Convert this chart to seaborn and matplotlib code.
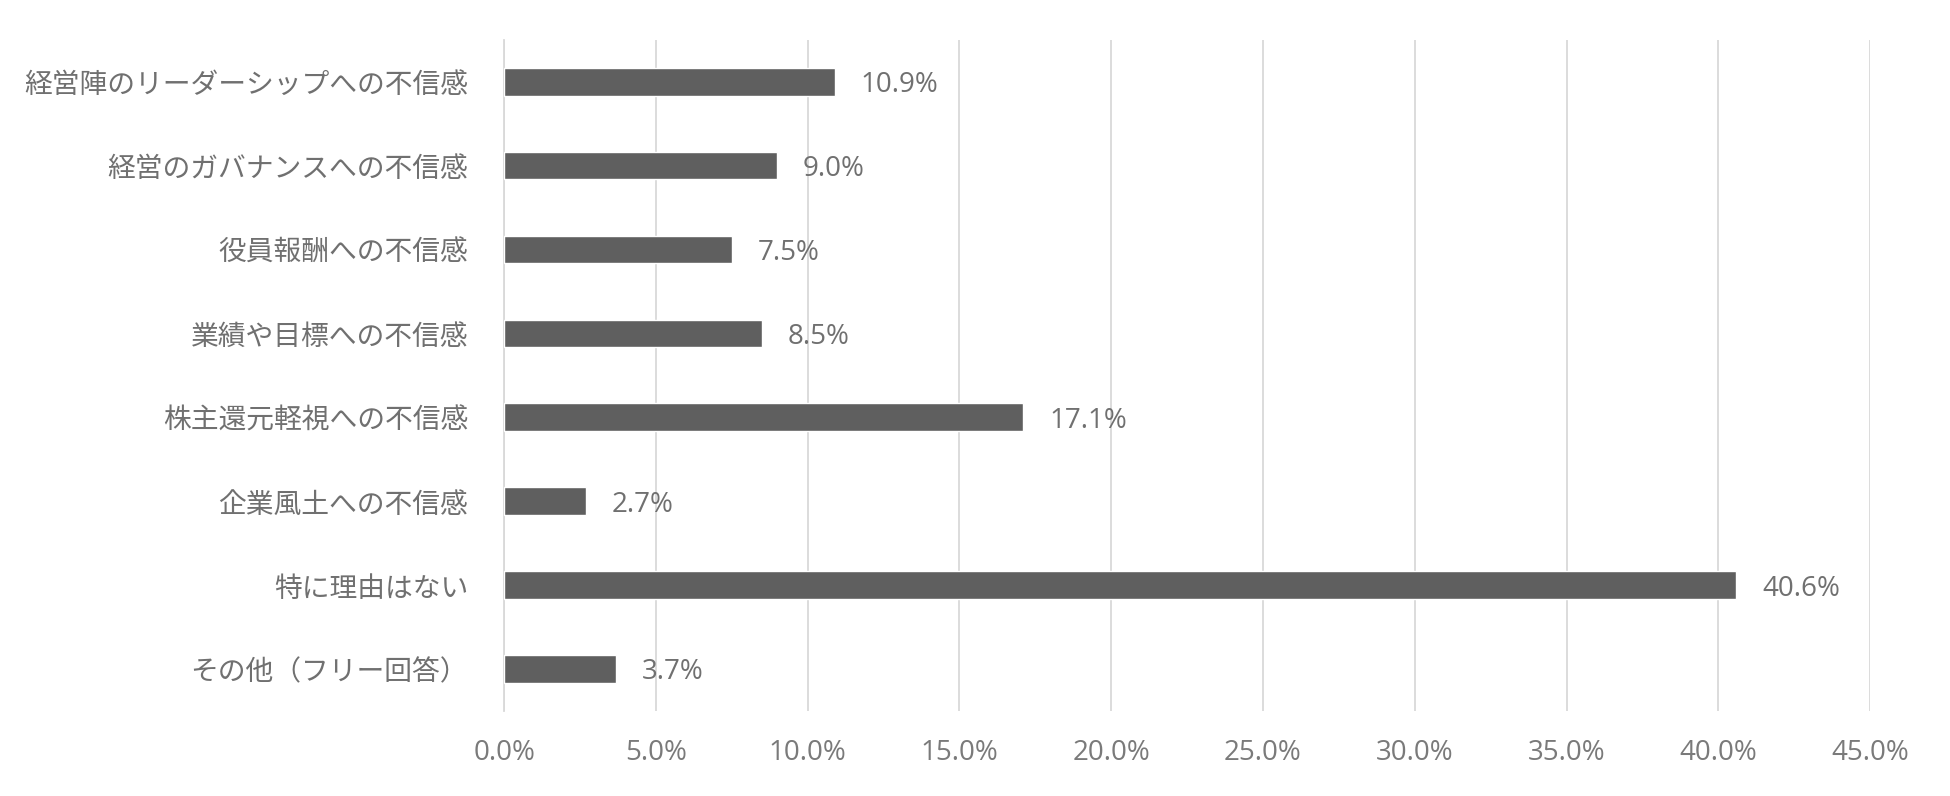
import pandas as pd
import seaborn as sns
import matplotlib.pyplot as plt
from matplotlib.ticker import FuncFormatter, MultipleLocator

# 回答項目と割合（%）
categories = [
    "経営陣のリーダーシップへの不信感",
    "経営のガバナンスへの不信感",
    "役員報酬への不信感",
    "業績や目標への不信感",
    "株主還元軽視への不信感",
    "企業風土への不信感",
    "特に理由はない",
    "その他（フリー回答）",
]
values = [10.9, 9.0, 7.5, 8.5, 17.1, 2.7, 40.6, 3.7]

df = pd.DataFrame({"項目": categories, "割合": values})

sns.set_style("white")
plt.rcParams["font.family"] = ["Noto Sans CJK JP", "DejaVu Sans"]

fig = plt.figure(figsize=(19.5, 7.96), dpi=100)
ax = fig.add_axes([0.2585, 0.107, 0.7005, 0.843])

sns.barplot(data=df, x="割合", y="項目", color="#5f5f5f", width=0.33,
            saturation=1, ax=ax, zorder=3)

# データラベル
for i, v in enumerate(values):
    ax.text(v + 0.85, i, f"{v:.1f}%", va="center_baseline", ha="left",
            fontsize=20, color="#707070", family=["Open Sans", "DejaVu Sans"])

ax.set_xlim(0, 45)
ax.xaxis.set_major_locator(MultipleLocator(5))
ax.xaxis.set_major_formatter(FuncFormatter(lambda x, p: f"{x:.1f}%"))
ax.grid(axis="x", color="#d9d9d9", linewidth=1.3, zorder=0)
ax.set_xlabel("")
ax.set_ylabel("")
for s in ["top", "right", "bottom"]:
    ax.spines[s].set_visible(False)
ax.spines["left"].set_color("#d9d9d9")
ax.spines["left"].set_linewidth(1.3)
ax.tick_params(axis="y", length=0, pad=26, labelsize=20, labelcolor="#707070")
ax.tick_params(axis="x", length=0, pad=20, labelsize=20, labelcolor="#7a7a7a")
for lab in ax.get_xticklabels():
    lab.set_family(["Open Sans", "DejaVu Sans"])

plt.savefig("out.png", dpi=100)
